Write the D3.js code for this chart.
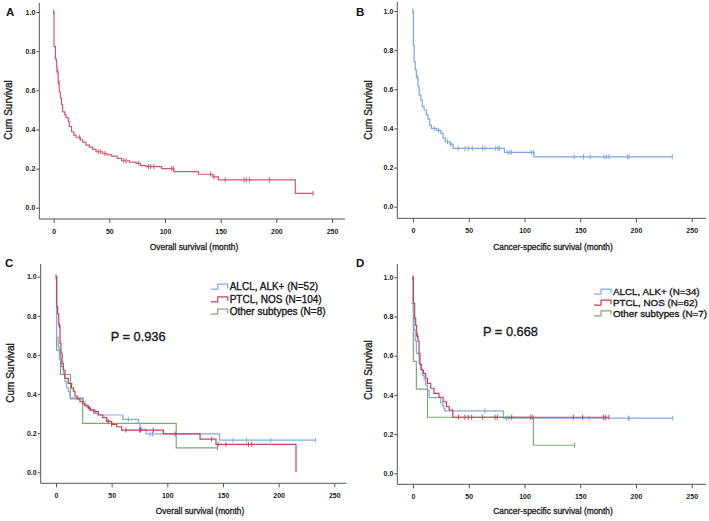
<!DOCTYPE html>
<html><head><meta charset="utf-8">
<script src="https://cdn.jsdelivr.net/npm/d3@7"></script>
<style>
body{margin:0;background:#fff;}
svg{display:block;font-family:"Liberation Sans",Arial,sans-serif;}
</style></head>
<body><svg id="c" width="709" height="521"></svg>
<script>
// ---------- data ----------
const xTicks = [0, 50, 100, 150, 200, 250];
const yTicks = [0.0, 0.2, 0.4, 0.6, 0.8, 1.0];
const seriesNames = ["ALCL, ALK+", "PTCL, NOS", "Other subtypes"];
const osCounts = [52, 104, 8];
const cssCounts = [34, 62, 7];
const pValues = ["0.936", "0.668"];

// Panel A: overall survival, all patients
const osAllTimes = [0.3, 1.5, 2.5, 3, 4, 5, 6, 7, 8, 10, 11, 13, 14, 16, 18, 20, 24, 26, 29, 32, 35, 38, 44, 48, 52, 57, 61, 68, 74, 78, 83, 97, 108, 130, 143, 148, 217];
const osAllSurv  = [0.823, 0.76, 0.72, 0.695, 0.64, 0.59, 0.56, 0.525, 0.49, 0.474, 0.46, 0.44, 0.415, 0.388, 0.371, 0.36, 0.346, 0.335, 0.32, 0.31, 0.298, 0.286, 0.277, 0.27, 0.264, 0.252, 0.24, 0.233, 0.227, 0.215, 0.21, 0.2, 0.184, 0.171, 0.158, 0.142, 0.073];
const osAllCensor = [0, 3.2, 4.6, 23, 40, 42, 46, 63, 65, 76, 85, 87, 90, 106, 107.5, 141, 144, 154, 171, 173, 176, 194, 233];

// Panel B: cancer-specific survival, all patients
const cssAllTimes = [0.3, 1, 2, 3, 4.5, 5.5, 7, 8.3, 10, 12, 13.5, 15, 16.5, 21, 25, 27, 29, 33, 36, 82, 108.5];
const cssAllSurv  = [0.826, 0.741, 0.70, 0.664, 0.613, 0.571, 0.545, 0.511, 0.494, 0.469, 0.447, 0.417, 0.40, 0.39, 0.375, 0.35, 0.332, 0.32, 0.298, 0.278, 0.255];
const cssAllCensor = [0, 3.5, 19, 23, 31, 34, 40.6, 46.6, 49.6, 53.2, 62.2, 64.6, 74.2, 76.2, 77.7, 85, 87, 88.5, 106, 108, 144.5, 152.9, 158.8, 171.4, 173.5, 175.8, 192.3, 193.8, 232.6];

// Panel C: overall survival by subtype
const osAlclTimes = [0.5, 2, 3, 5, 6.6, 8, 9.6, 11, 12.6, 24.5, 26, 28, 31, 35.5, 38, 60, 74, 75.5, 81, 147];
const osAlclSurv  = [0.69, 0.64, 0.58, 0.54, 0.505, 0.463, 0.43, 0.412, 0.381, 0.36, 0.345, 0.33, 0.318, 0.30, 0.293, 0.271, 0.25, 0.22, 0.196, 0.164];
const osAlclCensor = [4, 65, 77, 84.6, 86.7, 159, 171, 193, 233];
const osPtclTimes = [0.6, 1.5, 2.5, 3.6, 4.5, 5.5, 6.6, 8, 11, 14, 15.6, 17, 19, 21.5, 24, 26, 29, 31, 34, 38, 42, 45.5, 50, 54.5, 59, 96.4, 129.4, 143.7, 215.6];
const osPtclSurv  = [0.847, 0.81, 0.75, 0.66, 0.61, 0.557, 0.523, 0.48, 0.455, 0.43, 0.415, 0.39, 0.375, 0.361, 0.35, 0.34, 0.327, 0.318, 0.31, 0.293, 0.28, 0.26, 0.245, 0.233, 0.216, 0.196, 0.17, 0.143, 0.0];
const osPtclCensor = [0, 3.2, 30, 34, 47, 50, 62.9, 74.8, 76, 87.4, 107, 139.9, 145.6, 152.7, 172.8, 175.8];
const osOtherTimes = [0.5, 4, 13, 24, 108];
const osOtherSurv  = [0.625, 0.5, 0.375, 0.25, 0.125];
const osOtherCensor = [145];

// Panel D: cancer-specific survival by subtype
const cssAlclTimes = [0.3, 1, 2, 3, 5.4, 7, 8.4, 10, 11.4, 12.9, 14.4, 24.8, 26.5, 27.7, 28.6, 81];
const cssAlclSurv  = [0.82, 0.735, 0.675, 0.612, 0.56, 0.53, 0.50, 0.476, 0.45, 0.425, 0.386, 0.36, 0.345, 0.331, 0.319, 0.281];
const cssAlclCensor = [64.6, 84, 86, 158, 172, 193, 194, 233];
const cssPtclTimes = [0.3, 1.5, 2.4, 3.3, 4.5, 5.4, 6.3, 7.5, 9.3, 11.4, 12.9, 15.9, 18.8, 23.3, 27, 30, 32.5, 35.7];
const cssPtclSurv  = [0.867, 0.79, 0.755, 0.70, 0.673, 0.612, 0.553, 0.527, 0.51, 0.485, 0.459, 0.434, 0.408, 0.388, 0.365, 0.34, 0.323, 0.286];
const cssPtclCensor = [0, 4, 40.7, 46.6, 49.6, 52.6, 62.5, 73.6, 75.6, 88.5, 105.6, 107.5, 143.8, 152.2, 170.7, 172.9, 175.8];
const cssOtherTimes = [0.3, 3, 13, 108];
const cssOtherSurv  = [0.571, 0.429, 0.286, 0.143];
const cssOtherCensor = [145];

// ---------- styling ----------
const BLUE = "#86a9e2", RED = "#c8405c", GREEN = "#7daa72", RED_A = "#cf5a6c", BLUE_B = "#7fa5e0";
const AXIS = "#555";

const svg = d3.select("#c");

const panels = [
  {letter:"A", lx:6, ly:16, frame:{l:39.3,t:3,r:345,b:219}, x0:53.7, x250:332, y1:12, y0:207.7,
   ytx:8, yty:110, xtx:194, xty:247, xtitle:"Overall survival (month)",
   curves:[{t:osAllTimes,s:osAllSurv,c:osAllCensor,col:RED_A}]},
  {letter:"B", lx:356, ly:16, frame:{l:397.3,t:2,r:706,b:218.3}, x0:413, x250:691.7, y1:11, y0:206.7,
   ytx:368, yty:110, xtx:553, xty:246.7, xtitle:"Cancer-specific survival (month)",
   curves:[{t:cssAllTimes,s:cssAllSurv,c:cssAllCensor,col:BLUE_B}]},
  {letter:"C", lx:5, ly:267, frame:{l:40.7,t:264,r:346.7,b:483.3}, x0:56, x250:334.3, y1:276.7, y0:472.3,
   ytx:10.7, yty:373, xtx:200, xty:510.7, xtitle:"Overall survival (month)",
   curves:[{t:osOtherTimes,s:osOtherSurv,c:osOtherCensor,col:GREEN},
           {t:osAlclTimes,s:osAlclSurv,c:osAlclCensor,col:BLUE},
           {t:osPtclTimes,s:osPtclSurv,c:osPtclCensor,col:RED}],
   legend:{x:210.7, ys:[286.7,299.3,311.7], counts:osCounts, fs:10},
   p:{x:110.7, y:336.7, v:pValues[0]}},
  {letter:"D", lx:356, ly:267, frame:{l:397.3,t:264,r:706,b:484.3}, x0:413, x250:691.7, y1:277.3, y0:473.3,
   ytx:368, yty:370, xtx:553, xty:510.7, xtitle:"Cancer-specific survival (month)",
   curves:[{t:cssOtherTimes,s:cssOtherSurv,c:cssOtherCensor,col:GREEN},
           {t:cssAlclTimes,s:cssAlclSurv,c:cssAlclCensor,col:BLUE},
           {t:cssPtclTimes,s:cssPtclSurv,c:cssPtclCensor,col:RED}],
   legend:{x:594, ys:[291.7,302.7,313.3], counts:cssCounts, fs:9.8},
   p:{x:483, y:331.7, v:pValues[1]}}
];

function stepValue(times, surv, t){
  let v = 1;
  for (let i=0;i<times.length;i++){ if (times[i] <= t) v = surv[i]; else break; }
  return v;
}
function heavy(sel, w){ return sel.attr("stroke", sel.attr("fill")).attr("stroke-width", w).attr("paint-order","stroke"); }

panels.forEach(P => {
  const g = svg.append("g");
  const x = d3.scaleLinear().domain([0,250]).range([P.x0, P.x250]);
  const y = d3.scaleLinear().domain([0,1]).range([P.y0, P.y1]);
  const F = P.frame;

  // axis frame
  g.append("line").attr("x1",F.l).attr("x2",F.l).attr("y1",F.t).attr("y2",F.b).attr("stroke",AXIS).attr("stroke-width",1);
  g.append("line").attr("x1",F.l).attr("x2",F.r).attr("y1",F.b).attr("y2",F.b).attr("stroke",AXIS).attr("stroke-width",1);

  const xa = g.append("g").attr("transform",`translate(0,${F.b})`)
    .call(d3.axisBottom(x).tickValues(xTicks).tickSize(4).tickPadding(6).tickFormat(d3.format("d")));
  const ya = g.append("g").attr("transform",`translate(${F.l},0)`)
    .call(d3.axisLeft(y).tickValues(yTicks).tickSize(3).tickPadding(1).tickFormat(d3.format(".1f")));
  [xa,ya].forEach(a=>{
    a.select(".domain").remove();
    a.selectAll(".tick line").attr("stroke",AXIS);
    a.selectAll(".tick text").attr("fill","#222").style("font-size","7px").style("font-weight","bold")
      .style("font-family","'Liberation Sans',Arial,sans-serif");
  });

  // titles
  g.append("text").attr("x",P.lx).attr("y",P.ly).text(P.letter)
    .style("font-size","11.5px").style("font-weight","bold").attr("fill","#111");
  heavy(g.append("text").attr("transform",`translate(${P.ytx},${P.yty}) rotate(-90)`)
    .attr("text-anchor","middle").attr("dominant-baseline","central")
    .style("font-size","10px").attr("fill","#222").text("Cum Survival"), 0.35);
  heavy(g.append("text").attr("x",P.xtx).attr("y",P.xty).attr("text-anchor","middle").attr("dominant-baseline","central")
    .style("font-size","8.4px").attr("fill","#222").text(P.xtitle), 0.3);

  // curves
  const line = d3.line().x(d=>x(d[0])).y(d=>y(d[1])).curve(d3.curveStepAfter);
  P.curves.forEach(cv => {
    const pts = [[0,1]];
    cv.t.forEach((t,i)=>pts.push([t, cv.s[i]]));
    const tEnd = Math.max(d3.max(cv.t), d3.max(cv.c));
    pts.push([tEnd, stepValue(cv.t, cv.s, tEnd)]);
    g.append("path").attr("d", line(pts)).attr("fill","none").attr("stroke",cv.col).attr("stroke-width",1.2);
    g.selectAll(null).data(cv.c).enter().append("line")
      .attr("x1",d=>x(d)).attr("x2",d=>x(d))
      .attr("y1",d=>y(stepValue(cv.t,cv.s,d))-2.5).attr("y2",d=>y(stepValue(cv.t,cv.s,d))+2.5)
      .attr("stroke",cv.col).attr("stroke-width",1);
  });

  // legend
  if (P.legend){
    const L = P.legend;
    const cols = [BLUE, RED, GREEN];
    seriesNames.forEach((nm,i)=>{
      const yy = L.ys[i], x0 = L.x;
      g.append("path").attr("d",`M${x0},${yy+2.5}H${x0+7}V${yy-2.5}H${x0+17}V${yy+1.5}`)
        .attr("fill","none").attr("stroke",cols[i]).attr("stroke-width",1.2);
      heavy(g.append("text").attr("x",x0+19).attr("y",yy).attr("dominant-baseline","central")
        .style("font-size",L.fs+"px").attr("fill","#1a1a1a").text(`${nm} (N=${L.counts[i]})`), 0.35);
    });
    heavy(g.append("text").attr("x",P.p.x).attr("y",P.p.y).attr("dominant-baseline","central")
      .style("font-size","12.8px").attr("fill","#1a1a1a").text(`P = ${P.p.v}`), 0.35);
  }
});
</script></body></html>
